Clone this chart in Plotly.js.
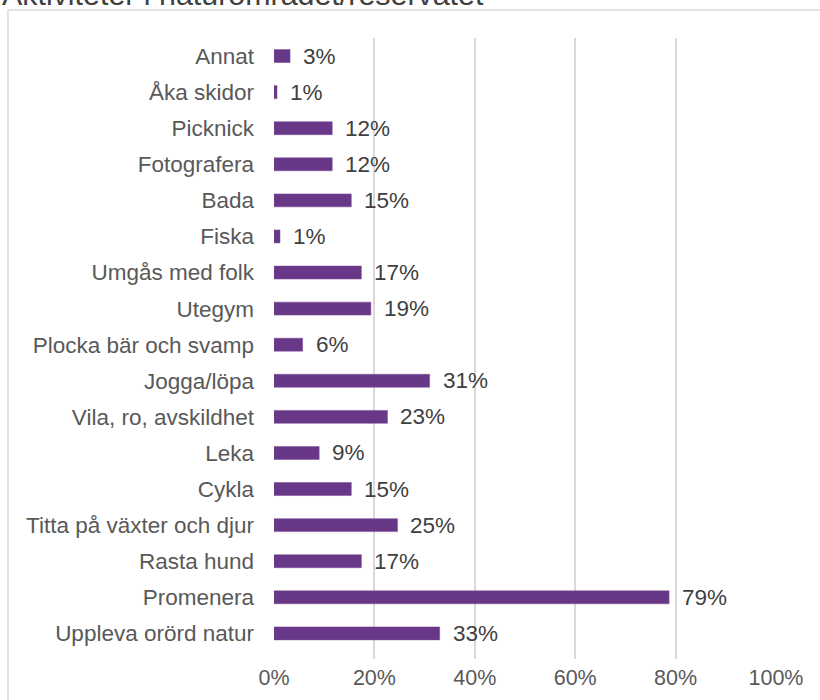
<!DOCTYPE html>
<html>
<head>
<meta charset="utf-8">
<script src="https://cdn.plot.ly/plotly-3.0.1.min.js"></script>
<style>
html,body{margin:0;padding:0;background:#fff;}
#chart{width:820px;height:700px;}
</style>
</head>
<body>
<div id="chart"></div>
<script>
// Data (bottom to top, as in the reference)
const categories = [
  "Uppleva orörd natur", "Promenera", "Rasta hund", "Titta på växter och djur",
  "Cykla", "Leka", "Vila, ro, avskildhet", "Jogga/löpa", "Plocka bär och svamp",
  "Utegym", "Umgås med folk", "Fiska", "Bada", "Fotografera", "Picknick",
  "Åka skidor", "Annat"
];
const values = [
  0.330, 0.787, 0.174, 0.246,
  0.154, 0.090, 0.226, 0.310, 0.057,
  0.193, 0.174, 0.012, 0.154, 0.116, 0.116,
  0.006, 0.032
];
const titleText = "Aktiviteter i naturområdet/reservatet";
const tickVals = [0, 0.2, 0.4, 0.6, 0.8, 1.0];
const tickText = ["0%", "20%", "40%", "60%", "80%", "100%"];

const W = 820, H = 700;
const mL = 274, mR = 44, mT = 38, mB = 41;
const pw = W - mL - mR, ph = H - mT - mB;
const px = x => (x - mL) / pw;
const py = y => (H - mB - y) / ph;

const FONT = "Liberation Sans, Arial, sans-serif";

const labelAnnotations = categories.map((c, i) => ({
  x: values[i], y: c, xref: "x", yref: "y",
  text: Math.round(values[i] * 100) + "%",
  showarrow: false, xanchor: "left", yanchor: "middle",
  xshift: 11,
  font: {family: FONT, size: 22.5, color: "#404040"}
}));

const trace = {
  type: "bar",
  orientation: "h",
  x: values,
  y: categories,
  marker: {color: "#693787", line: {color: "#7a4a96", width: 0.5}},
  hoverinfo: "none"
};

const layout = {
  width: W, height: H,
  margin: {l: mL, r: mR, t: mT, b: mB, pad: 0},
  paper_bgcolor: "#ffffff",
  plot_bgcolor: "#ffffff",
  showlegend: false,
  bargap: 0.64,
  xaxis: {
    range: [0, 1.0],
    tickvals: tickVals, ticktext: tickText,
    showgrid: true, gridcolor: "#d9d9d9", gridwidth: 2,
    zeroline: false, showline: false, ticks: "",
    ticklabelstandoff: 3,
    tickfont: {family: FONT, size: 21.5, color: "#595959"},
    fixedrange: true
  },
  yaxis: {
    type: "category",
    categoryorder: "array", categoryarray: categories,
    range: [-0.71, 16.5],
    showgrid: false, zeroline: false, showline: false, ticks: "",
    ticklabelstandoff: 19,
    tickfont: {family: FONT, size: 22.5, color: "#595959"},
    fixedrange: true
  },
  shapes: [{
    type: "rect", xref: "paper", yref: "paper",
    x0: px(8), x1: px(830), y0: py(710), y1: py(10),
    line: {color: "#d9d9d9", width: 1.5}, fillcolor: "rgba(0,0,0,0)",
    layer: "below"
  }],
  annotations: labelAnnotations.concat([{
    xref: "paper", yref: "paper",
    x: px(0), y: py(13),
    xanchor: "left", yanchor: "bottom",
    text: titleText, showarrow: false,
    font: {family: FONT, size: 30.4, color: "#404040"}
  }])
};

Plotly.newPlot("chart", [trace], layout, {displayModeBar: false, staticPlot: true});
</script>
</body>
</html>
